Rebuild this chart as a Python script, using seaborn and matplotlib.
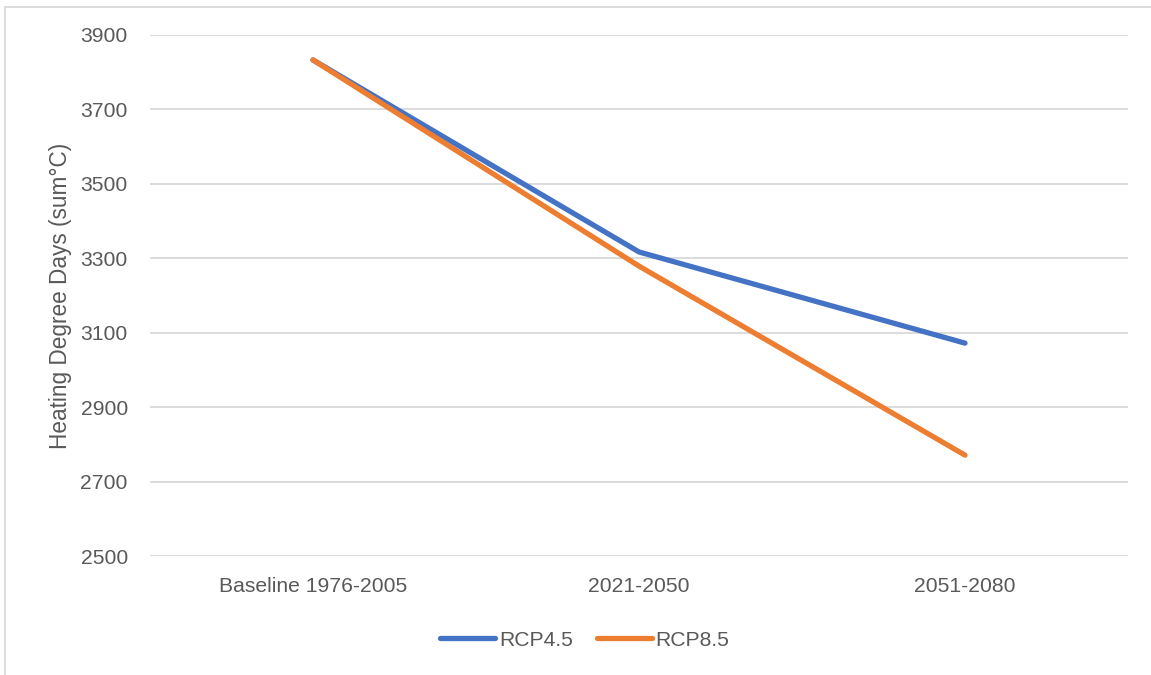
import matplotlib
matplotlib.use("Agg")
import matplotlib.pyplot as plt
import seaborn as sns
import pandas as pd
from matplotlib.patches import Rectangle

periods = ["Baseline 1976-2005", "2021-2050", "2051-2080"]
rcp45 = [3833, 3317, 3072]
rcp85 = [3833, 3279, 2771]
yticks = [2500, 2700, 2900, 3100, 3300, 3500, 3700, 3900]

df = pd.DataFrame({
    "period": periods * 2,
    "hdd": rcp45 + rcp85,
    "scenario": ["RCP4.5"] * 3 + ["RCP8.5"] * 3,
})

sns.set_theme(style="white")
plt.rcParams["font.family"] = ["Liberation Sans", "DejaVu Sans"]

W, H = 1151, 675
fig = plt.figure(figsize=(W / 100, H / 100), dpi=100)
ax = fig.add_axes([150 / W, (H - 556) / H, (1128 - 150) / W, (556 - 35) / H])

text_color = "#595959"
grid_color = "#D9D9D9"
fs = 15.2

sns.lineplot(data=df, x="period", y="hdd", hue="scenario",
             palette={"RCP4.5": "#4472C4", "RCP8.5": "#ED7D31"},
             linewidth=3.8, sort=False, ax=ax, legend=True)
for ln in ax.lines:
    ln.set_solid_capstyle("round")
    ln.set_solid_joinstyle("round")

ax.set_xlim(-0.5, 2.5)
ax.set_ylim(2500, 3900)
ax.set_yticks(yticks)
ax.set_yticklabels([str(v) for v in yticks])
ax.yaxis.grid(True, color=grid_color, linewidth=1.3)
ax.xaxis.grid(False)
ax.set_axisbelow(True)
for s in ax.spines.values():
    s.set_visible(False)
ax.tick_params(axis="both", length=0, labelsize=fs, colors=text_color)
ax.tick_params(axis="y", pad=16)
ax.tick_params(axis="x", pad=15)
ax.set_xlabel("")
ax.set_ylabel("Heating Degree Days (sum°C)", fontsize=16.3, color=text_color, labelpad=6)

handles, labels = ax.get_legend_handles_labels()
for h in handles:
    h.set_linewidth(3.8)
    h.set_solid_capstyle("round")
leg = ax.legend(handles, labels, loc="center", bbox_to_anchor=(585 / W, (H - 640) / H),
                bbox_transform=fig.transFigure, ncol=2, frameon=False,
                fontsize=fs, handlelength=2.6, handletextpad=0.2, columnspacing=1.1)
for t in leg.get_texts():
    t.set_color(text_color)

fig.patches.append(Rectangle((5 / W, -0.05), 1.2, (H - 7) / H + 0.05,
                             transform=fig.transFigure, fill=False,
                             edgecolor="#D9D9D9", linewidth=1.3))

fig.savefig("out.png", dpi=100, facecolor="white")
